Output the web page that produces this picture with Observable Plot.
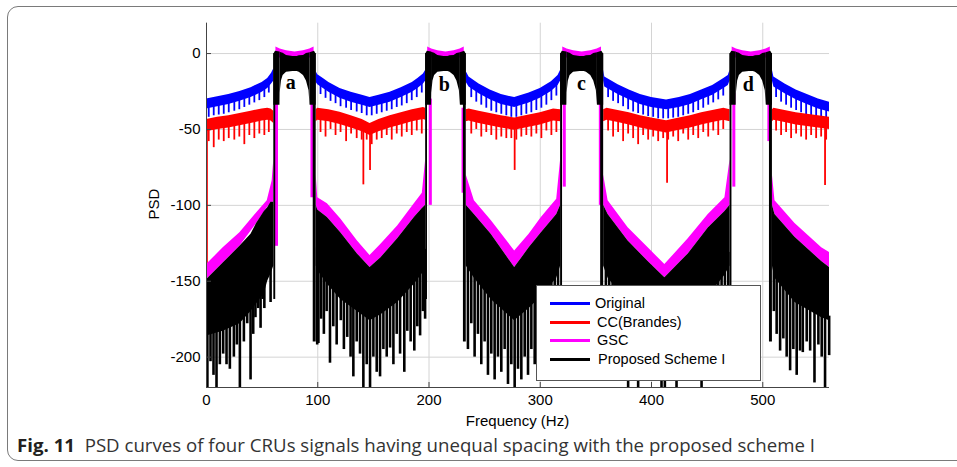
<!DOCTYPE html>
<html><head><meta charset="utf-8">
<script src="https://cdn.jsdelivr.net/npm/d3@7"></script>
<script src="https://cdn.jsdelivr.net/npm/@observablehq/plot@0.6"></script>
<style>
html,body{margin:0;padding:0;background:#fff}
body{width:957px;height:467px;overflow:hidden;position:relative;font-family:"Liberation Sans",Arial,sans-serif}
#frame{position:absolute;left:7px;top:6px;width:1000px;height:455px;border:1.5px solid #7a7a7a;border-radius:11px;box-sizing:border-box}
#chart{position:absolute;left:0;top:0}
#legend{position:absolute;left:536px;top:285px;width:225px;height:96px;border:1px solid #555;background:#fff;box-sizing:border-box;font-family:"Liberation Sans",Arial,sans-serif;font-size:14.5px;color:#000}
.row{position:absolute;left:0;height:18px;width:100%}
.row .ln{position:absolute;left:13px;top:8px;width:40px;height:3px}
.row .tx{position:absolute;left:58px;top:0;line-height:18px;white-space:nowrap}
.axlab{position:absolute;font-family:"Liberation Sans",Arial,sans-serif;font-size:15px;color:#000;white-space:nowrap;line-height:15px}
#xlab{left:517.5px;top:413px;transform:translateX(-50%)}
#ylab{left:153px;top:204px;transform:translate(-50%,-50%) rotate(-90deg)}
#caption{position:absolute;left:17px;top:433px;font-family:"Open Sans","Noto Sans",sans-serif;font-size:17.5px;color:#333;white-space:nowrap;transform-origin:0 0}
#caption b{color:#231f20;font-weight:700}
</style></head>
<body>
<div id="frame"></div>
<div id="chart"></div>
<div id="legend"></div>
<div class="axlab" id="xlab">Frequency (Hz)</div>
<div class="axlab" id="ylab">PSD</div>
<div id="caption"><b>Fig. 11</b>&nbsp;&nbsp;PSD curves of four CRUs signals having unequal spacing with the proposed scheme I</div>
<script>
// ================= DATA =================
const xTicks = [0, 100, 200, 300, 400, 500];
const yTicks = [0, -50, -100, -150, -200];
const seriesNames = ["Original", "CC(Brandes)", "GSC", "Proposed Scheme I"];
const seriesColors = ["#0000ff", "#ff0000", "#ff00ff", "#000000"];

// four CRU channels (Hz)
const bandLabels = ["a", "b", "c", "d"];
const bandStart = [60.5, 197, 318.3, 470.6];
const bandEnd = [98.6, 233.5, 357, 508.7];
const labelFreq = [75.7, 213.8, 337, 487];
const labelPSD = [-23.5, -24.5, -24, -24.5];

// Original (blue): segments between channels, [f, top, fringe bottom]
const blueEnv = [
  [[0,-30,-36.5],[10,-28.5,-35],[20,-27,-33.5],[30,-25,-31.5],[40,-22.5,-29],[50,-19,-25.5],[55,-16.5,-23],[58.5,-13,-20],[60.5,-10,-18]],
  [[98.6,-12,-19],[100,-14,-20.5],[105,-16.5,-23],[110,-19,-25.5],[115,-21,-27.5],[120,-23,-29.5],[130,-25.5,-32],[140,-27.5,-34],[147,-29,-35.5],[155,-27.5,-34],[165,-25.5,-32],[175,-22.5,-29],[185,-19,-25.5],[190,-16.5,-23],[195,-13.5,-20],[197,-11,-18]],
  [[233.5,-12,-19],[236,-15.5,-22],[245,-20,-26.5],[255,-24,-30.5],[265,-27,-33.5],[277,-29,-35.5],[290,-26,-32.5],[300,-23,-29.5],[310,-18.5,-25],[316,-14.5,-21],[318.3,-11,-18]],
  [[357,-11,-18],[358,-15.5,-22],[370,-20.5,-27],[380,-24,-30.5],[390,-27,-33.5],[400,-29,-35.5],[413.5,-30.6,-37],[425,-29,-35.5],[435,-27,-33.5],[445,-24,-30.5],[455,-21,-27.5],[465,-16.5,-23],[469,-14.5,-21],[470.6,-11,-18]],
  [[508.7,-11,-18],[510,-15.5,-22],[520,-20,-26.5],[530,-24,-30.5],[540,-27,-33.5],[550,-30,-36.5],[560,-32,-38.5]]
];
// Original teeth [f, base, tip]
const blueTeeth = [
  [2,-34,-42],[6.5,-33.5,-41],[11,-33,-40.5],[15.5,-32,-40],[20,-31.5,-39],[25,-30.5,-38],[29.5,-29.5,-37],[34,-28.5,-35.5],[38.5,-27.5,-34],[43,-26,-32.5],[47.5,-24.5,-31],[52,-22.5,-29],[56,-19.5,-26],
  [102.5,-20,-27],[107,-22,-29.5],[111.5,-24,-31.5],[116,-25.5,-33],[120.5,-27.5,-35],[125.5,-28.5,-36],[130,-30,-37.5],[135,-31,-38.5],[139.5,-32,-39.5],[144,-33,-41],[148.5,-33,-41],[153,-32,-40],[157.5,-31.5,-39],[162,-30.5,-38],[166.5,-29.5,-37],[171,-28,-35.5],[175.5,-27,-34.5],[180,-25.5,-33],[184.5,-23.5,-31],[189,-21.5,-29],[193.5,-18.5,-26],
  [238,-21.5,-29],[242.5,-24,-32],[247,-26,-34],[251.5,-28,-36],[256,-29.5,-38],[260.5,-30.5,-39],[265,-31.5,-40],[269.5,-32.5,-41],[274,-33.5,-42],[278.5,-33.5,-42],[283,-32.5,-41],[287.5,-31.5,-40],[292,-30,-39],[296.5,-29,-37.5],[301,-27.5,-36],[305.5,-25.5,-34],[310,-23,-31],[314.5,-20,-28],
  [361,-21.5,-29],[365.5,-23.5,-31.5],[370,-25,-33],[374.5,-27,-35],[379,-28.5,-37],[383.5,-30,-38.5],[388,-31,-39.5],[392.5,-32,-40.5],[397,-33,-41.5],[401.5,-33.5,-42],[406,-34.5,-43],[410.5,-35,-43],[415,-35,-43],[419.5,-34.5,-42.5],[424,-34,-42],[428.5,-33,-41],[433,-32,-40],[437.5,-31,-39],[442,-29.5,-37.5],[446.5,-28,-36],[451,-26.5,-34],[455.5,-25,-32.5],[460,-23,-30.5],[464.5,-20.5,-28],
  [512,-21.5,-29],[516.5,-23.5,-32],[521,-25,-34],[525.5,-27,-36],[530,-28.5,-37.5],[534.5,-30,-39],[539,-31,-40.5],[543.5,-32,-41.5],[548,-33,-42.5],[552.5,-34,-43.5],[557,-35,-44]
];

// CC(Brandes) (red): [f, top, fringe bottom]
const redEnv = [
  [[0,-43.5,-51.5],[10,-42,-50],[20,-41,-49],[30,-39.5,-47.5],[40,-38,-46],[50,-36.5,-44.5],[55,-36,-44],[58,-36.5,-44.5],[60.5,-38,-46]],
  [[98.6,-37,-45],[100,-36,-44],[110,-37,-45],[120,-38.7,-46.7],[130,-41,-49],[140,-43.5,-51.5],[147,-46,-54],[155,-43.5,-51.5],[165,-41,-49],[175,-39,-47],[185,-37,-45],[195,-35.5,-43.5],[197,-36,-44]],
  [[233.5,-37,-45],[236,-36.5,-44.5],[245,-38,-46],[255,-39.5,-47.5],[265,-41,-49],[277,-42.5,-50.5],[290,-40.5,-48.5],[300,-39,-47],[312,-36.5,-44.5],[318.3,-37,-45]],
  [[357,-37,-45],[360,-36,-44],[370,-37.5,-45.5],[380,-39,-47],[390,-41,-49],[400,-42.5,-50.5],[413.5,-44.3,-52.3],[425,-42.5,-50.5],[435,-41,-49],[445,-39,-47],[455,-37.5,-45.5],[465,-36,-44],[470.6,-37,-45]],
  [[508.7,-37,-45],[510,-36,-44],[520,-37.5,-45.5],[530,-39,-47],[540,-40,-48],[550,-41,-49],[560,-42,-50]]
];
// CC(Brandes) teeth [f, base, tip]
const redTeeth = [
  [0.4,-43.5,-140],
  [2,-49,-58],[6.5,-48.5,-62],[11,-48,-57],[15.5,-47.5,-58],[20,-47,-56],[25,-46,-57],[29.5,-45.5,-55],[34,-45,-60],[38.5,-44,-54],[43,-43.5,-56],[47.5,-43,-53],[52,-42.5,-54],[56,-42,-52],
  [102.5,-42,-52],[107,-42.5,-55],[111.5,-43,-50],[116,-44,-54],[120.5,-45,-52],[125.5,-46,-58],[130,-47,-53],[135,-48,-56],[139.5,-49,-57],[141,-49.5,-86.5],[144,-51,-57],[147,-52,-77],[148.5,-51.5,-60],[153,-50,-57],[157.5,-49,-56],[162,-48,-54],[166.5,-47,-57],[171,-46,-53],[175.5,-45,-55],[180,-44,-52],[184.5,-43,-54],[189,-42.5,-51],[193.5,-42,-53],
  [238,-42.5,-53],[242.5,-43,-50],[247,-43.5,-55],[251.5,-44.5,-52],[256,-45.5,-54],[260.5,-46,-57],[265,-47,-55],[269.5,-47.5,-56],[274,-48,-56],[277,-48.5,-77],[278.5,-48.5,-57],[283,-47.5,-55],[287.5,-47,-54],[292,-46,-55],[296.5,-45.5,-53],[301,-45,-56],[305.5,-44,-51],[310,-43,-54],[314.5,-42.5,-52],
  [361,-42,-51],[365.5,-42.5,-55],[370,-43.5,-52],[374.5,-44,-58],[379,-45,-53],[383.5,-45.5,-56],[388,-46.5,-60],[392.5,-47,-54],[397,-48,-57],[401.5,-48.5,-55],[406,-49.5,-58],[410.5,-50,-56],[414,-50.3,-85.4],[415,-50,-57],[419.5,-49,-55],[424,-48.5,-58],[428.5,-47.5,-53],[433,-47,-57],[437.5,-46,-54],[442,-45.5,-56],[446.5,-44.5,-52],[451,-44,-55],[455.5,-43.5,-51],[460,-43,-54],[464.5,-42,-50],
  [512,-42.5,-51],[516.5,-43,-54],[521,-43.5,-52],[525.5,-44.5,-56],[530,-45,-53],[534.5,-45.5,-55],[539,-46,-57],[543.5,-46.5,-54],[548,-47,-56],[552.5,-47.5,-55],[556,-47.5,-87],[557,-48,-57]
];

// GSC (magenta): out-of-band [f, top, bottom]
const magEnv = [
  [[0,-139,-149],[15,-128,-138],[30,-118,-127],[45,-105,-112],[54.6,-97,-101.5],[59,-84,-98],[60.5,-70,-98]],
  [[98.6,-80,-100],[100,-95,-103],[108.7,-99,-108],[120.7,-109,-118],[135.7,-123.5,-132],[147,-133,-141],[156.8,-125.7,-134.5],[171.8,-113.6,-122],[186.8,-99,-108],[194,-92,-102],[197,-70,-100]],
  [[233.5,-80,-100],[240.8,-97,-106],[255.9,-110,-119],[277,-130,-141],[290,-119,-128],[301,-108,-118],[314.8,-96,-106],[318.3,-70,-100]],
  [[357,-80,-100],[361,-97,-106],[379,-114.7,-123.5],[397,-128,-137],[412,-139,-147.7],[433,-122,-132],[451,-106,-115],[466,-95,-104],[470.6,-70,-100]],
  [[508.7,-80,-100],[511,-97,-106],[529,-112,-121],[553,-128,-137],[560,-131,-141]]
];
// GSC in-band passband: fraction of band width, top, bottom
const magBandU = [0.05, 0.15, 0.3, 0.5, 0.7, 0.85, 0.95];
const magBandTop = [4.4, 3, 1.8, 1, 1.8, 3, 4.4];
const magBandBottom = [-3, -3, -3, -3, -3, -3, -3];
// GSC band-edge transitions inside each channel [f, top, bottom]
const magEdges = [
  [62.9,-30,-127],[94.8,-33,-95],
  [201.2,-30,-100],[230.6,-36,-92],
  [321.6,-30,-88],[354,-33,-100],
  [474,-26,-88],[505.5,-28,-58]
];

// Proposed Scheme I (black): out-of-band [f, top, solid bottom]
const blackEnv = [
  [[0,-149,-186],[15,-138,-183],[30,-127,-178],[40,-119,-170],[45,-112,-165],[52,-104,-158],[55,-101.5,-150],[58,-98,-145],[60.5,-98,-140]],
  [[98.6,-100,-140],[100,-103,-143],[108.7,-108,-152],[120.7,-118,-162],[135.7,-132,-170],[147,-141,-176],[156.8,-134.5,-172],[171.8,-122,-164],[186.8,-108,-152],[194,-102,-145],[197,-100,-140]],
  [[233.5,-100,-140],[240.8,-106,-148],[255.9,-119,-162],[277,-141,-176],[290,-128,-168],[301,-118,-160],[314.8,-106,-148],[318.3,-100,-140]],
  [[357,-100,-140],[361,-106,-148],[379,-123.5,-164],[397,-137,-174],[412,-147.7,-181],[433,-132,-172],[451,-115,-160],[466,-104,-146],[470.6,-100,-140]],
  [[508.7,-100,-140],[511,-106,-148],[529,-121,-164],[553,-137,-174],[560,-141,-176]]
];
// Proposed Scheme I spikes [f, base, tip]
const blackSpikes = [
  [0.8,-185,-220],[3.6,-183,-203],[6.3,-183,-212],[9,-182,-220],[12,-181,-205],[15,-181,-198],[18,-180,-205],[21,-179,-208],[24.6,-178,-200],[27.3,-176,-192],[30,-175,-220],[33.6,-171,-190],[36.6,-168,-178],[39.6,-165,-215],[42,-162,-185],[44,-158,-174],[46.5,-155,-168],[48.6,-152,-181],[50.5,-149,-162],[52,-147,-168],[57.6,-133,-164],
  [99.5,-128,-192],[100.6,-130,-191],[103,-133,-175],[105.5,-137,-185],[108,-141,-170],[111,-145,-204],[114,-149,-180],[117,-152,-192],[120.7,-156,-176],[123.5,-159,-195],[126.5,-161,-187],[129.5,-164,-200],[132,-166,-213],[135,-167,-190],[138,-169,-198],[141,-171,-220],[144,-173,-205],[147,-174,-220],[150,-173,-200],[153,-171,-210],[156,-169,-213],[159,-167,-195],[162,-165,-200],[165,-162,-194],[168,-160,-205],[171,-158,-185],[174,-155,-198],[177.8,-151,-210],[180.5,-148,-183],[183.5,-145,-190],[186.8,-142,-196],[189.5,-138,-180],[192,-135,-186],[194.5,-132,-170],[196.5,-129,-175],
  [235,-131,-195],[238,-135,-178],[241,-139,-200],[244,-143,-185],[247,-147,-205],[250,-151,-190],[253,-155,-212],[256,-158,-198],[259,-161,-215],[262,-164,-200],[265,-167,-210],[268,-169,-195],[271,-171,-218],[274,-173,-205],[277,-174,-220],[280,-172,-208],[283,-170,-215],[286,-167,-200],[289,-164,-212],[292,-161,-195],[295,-158,-205],[298,-155,-190],[301,-153,-200],[304,-149,-185],[307,-145,-195],[310,-142,-180],[313,-139,-190],[316,-134,-172],
  [359,-131,-190],[362,-137,-200],[365,-141,-185],[368,-145,-205],[371,-149,-195],[374,-153,-210],[377,-156,-200],[379,-158,-220],[382,-161,-205],[385,-164,-212],[388,-167,-220],[391,-169,-205],[394,-171,-210],[397,-171,-200],[400,-173,-212],[403,-175,-205],[406,-177,-214],[409,-178,-220],[412,-179,-220],[415,-178,-210],[418,-177,-214],[422.5,-175,-220],[425,-174,-205],[428,-172,-212],[431,-170,-200],[434,-167,-208],[437,-164,-196],[440,-161,-205],[443,-158,-195],[445,-156,-220],[448,-153,-200],[451,-150,-190],[454,-147,-198],[457,-144,-185],[460,-141,-192],[463,-138,-180],[466,-135,-185],[469,-131,-175],
  [510,-131,-170],[512.5,-135,-185],[515.6,-139,-196],[518.5,-143,-188],[521.5,-147,-200],[524.6,-150,-209],[527.5,-153,-195],[530.5,-156,-212],[533.5,-159,-196],[536,-161,-197],[539.5,-164,-190],[542.6,-166,-196],[546.5,-168,-217],[550,-170,-192],[553,-171,-200],[556,-172,-220],[559.7,-173,-199]
];
// Proposed Scheme I in-band shape (fraction of band width)
const wallLeftU = [0, 0.04, 0.145];
const wallLeftTop = [-0.5, 1.5, 1.0];
const wallRightU = [0.855, 0.96, 1];
const wallRightTop = [0.6, 1.5, -0.5];
const wallLow = -34;                       // bottom of the thick upper walls
const stripLeftU = [0, 0.045];             // thin transition edge, left
const stripRightU = [0.93, 1];             // thin transition edge, right
const stripTop = [0, 0];
const stripBottom = [-162, -190];
const capU = [0.145, 0.15, 0.18, 0.22, 0.3, 0.45, 0.55, 0.6, 0.7, 0.77, 0.83, 0.855];
const capTop = [1.0, 0.9, 0.6, 0.2, -1.2, -2, -2, -1.5, -1.2, 0, 0.4, 0.6];
const archTop = [-34, -26, -18, -14.5, -12.3, -11.8, -11.8, -12.3, -14.5, -18, -24.4, -34];

// ================= BUILD TABLES =================
const flatEnv = segs => segs.flatMap((s, i) => s.map(p => ({seg: i, f: p[0], a: p[1], b: p[2]})));
const inBand = (us, tops, bottoms) => bandStart.flatMap((s, k) => us.map((u, j) => ({
  seg: k, f: s + u * (bandEnd[k] - s), a: tops[j], b: Array.isArray(bottoms) ? bottoms[j] : bottoms
})));
const rules = arr => arr.map(d => ({f: d[0], a: d[1], b: d[2]}));
const fillArea = (data, color) => Plot.areaY(data, {x: "f", y1: "b", y2: "a", z: "seg", fill: color});

const marks = [
  Plot.gridX(xTicks, {stroke: "#d4d4d4", strokeOpacity: 1}),
  Plot.gridY(yTicks, {stroke: "#d4d4d4", strokeOpacity: 1}),
  // Original
  fillArea(flatEnv(blueEnv), seriesColors[0]),
  Plot.ruleX(rules(blueTeeth), {x: "f", y1: "a", y2: "b", stroke: seriesColors[0], strokeWidth: 1.8}),
  // CC(Brandes)
  fillArea(flatEnv(redEnv), seriesColors[1]),
  Plot.ruleX(rules(redTeeth), {x: "f", y1: "a", y2: "b", stroke: seriesColors[1], strokeWidth: 1.8}),
  // GSC
  fillArea(flatEnv(magEnv), seriesColors[2]),
  fillArea(inBand(magBandU, magBandTop, magBandBottom), seriesColors[2]),
  Plot.ruleX(rules(magEdges), {x: "f", y1: "a", y2: "b", stroke: seriesColors[2], strokeWidth: 3}),
  // Proposed Scheme I
  Plot.ruleX(rules(blackSpikes), {x: "f", y1: "a", y2: "b", stroke: seriesColors[3], strokeWidth: 2.6}),
  fillArea(flatEnv(blackEnv), seriesColors[3]),
  fillArea(inBand(wallLeftU, wallLeftTop, wallLow), seriesColors[3]),
  fillArea(inBand(wallRightU, wallRightTop, wallLow), seriesColors[3]),
  fillArea(inBand(stripLeftU, stripTop, stripBottom[0]), seriesColors[3]),
  fillArea(inBand(stripRightU, stripTop, stripBottom[1]), seriesColors[3]),
  fillArea(inBand(capU, capTop, archTop), seriesColors[3]),
  // axes
  Plot.ruleX([0], {stroke: "#444"}),
  Plot.ruleY([-220], {stroke: "#444"}),
  Plot.axisX({ticks: xTicks, tickSize: -5, stroke: "#444", tickFormat: () => "", label: null}),
  Plot.axisY({ticks: yTicks, tickSize: -5, stroke: "#444", tickFormat: () => "", label: null}),
  Plot.axisX({ticks: xTicks, tickSize: 0, tickPadding: 7, fontSize: 15, label: null, tickFormat: d => String(d)}),
  Plot.axisY({ticks: yTicks, tickSize: 0, tickPadding: 6, fontSize: 15, label: null, tickFormat: d => String(d)}),
  // channel labels
  Plot.text(bandLabels.map((t, k) => ({t, f: labelFreq[k], v: labelPSD[k]})), {
    x: "f", y: "v", text: "t", fontFamily: "Liberation Serif, Times New Roman, serif", fontWeight: "bold",
    fontSize: 20, lineAnchor: "bottom", fill: "#000"
  })
];

const chart = Plot.plot({
  width: 957, height: 430,
  marginLeft: 206, marginRight: 128, marginTop: 22.7, marginBottom: 43,
  x: {domain: [0, 560]},
  y: {domain: [-220, 20]},
  style: {fontFamily: "Liberation Sans, Arial, sans-serif", fontSize: "15px", color: "#000", background: "transparent", overflow: "visible"},
  marks
});
document.getElementById("chart").appendChild(chart);

// legend
const leg = document.getElementById("legend");
const rowTops = [8, 26.5, 44.5, 64];
seriesNames.forEach((n, i) => {
  const r = document.createElement("div");
  r.className = "row"; r.style.top = rowTops[i] + "px";
  r.innerHTML = `<div class="ln" style="background:${seriesColors[i]}"></div><div class="tx" style="left:${i === 0 ? 58 : (i === 3 ? 61 : 60)}px">${n}</div>`;
  leg.appendChild(r);
});

// fit caption width (condensed look)
const cap = document.getElementById("caption");
const w = cap.getBoundingClientRect().width;
cap.style.transform = `scaleX(${(798 / w).toFixed(4)})`;
</script>
</body></html>
